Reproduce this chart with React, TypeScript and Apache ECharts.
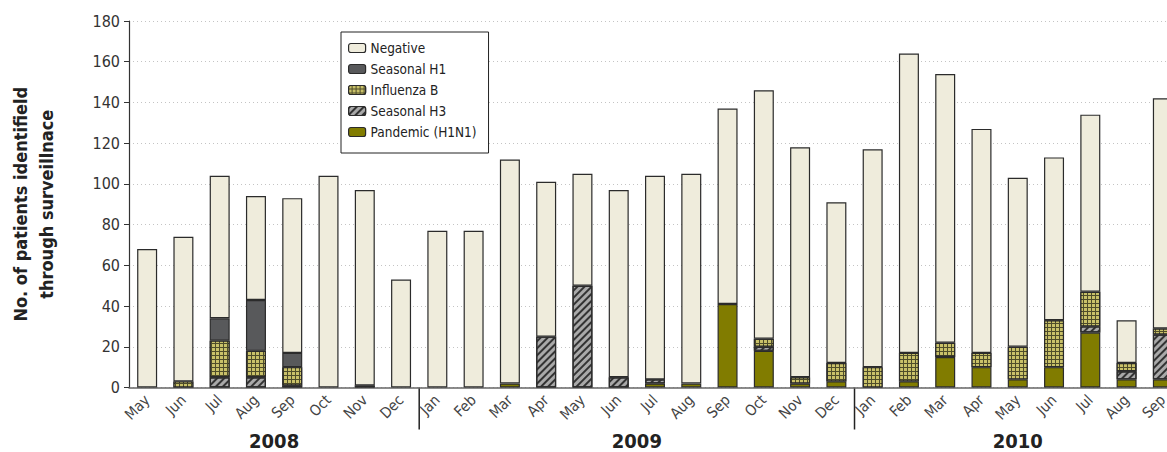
import React, { useEffect, useRef } from "react";
import * as echarts from "echarts";

const months = ["May","Jun","Jul","Aug","Sep","Oct","Nov","Dec","Jan","Feb","Mar","Apr","May","Jun","Jul","Aug","Sep","Oct","Nov","Dec","Jan","Feb","Mar","Apr","May","Jun","Jul","Aug","Sep"];
const yearLabels = ["2008", "2009", "2010"];

const pandemic = [0,0,0,0,0,0,0,0,0,0,2,0,0,0,2,2,41,18,2,3,0,3,15,10,4,10,27,4,4];
const seasonalH3 = [0,0,5,5,1,0,1,0,0,0,0,25,50,5,2,0,0,2,0,0,0,0,0,0,0,0,3,4,22];
const influenzaB = [0,3,18,13,9,0,0,0,0,0,0,0,0,0,0,0,0,4,3,9,10,14,7,7,16,23,17,4,3];
const seasonalH1 = [0,0,11,25,7,0,0,0,0,0,0,0,0,0,0,0,0,0,0,0,0,0,0,0,0,0,0,0,0];
const negative = [68,71,70,51,76,104,96,53,77,77,110,76,55,92,100,103,96,122,113,79,107,147,132,110,83,80,87,21,113];

const yTicks = { min: 0, max: 180, interval: 20 };

const FONT = '"DejaVu Sans Condensed", "Liberation Sans Narrow", "Noto Sans", sans-serif';
const BORDER = "#2b2b2b";

export default function App() {
  const ref = useRef<HTMLDivElement>(null);

  useEffect(() => {
    if (!ref.current) return;
    const chart = echarts.init(ref.current, null, { renderer: "svg" });

    const barBase = (name: string, data: number[], color: string, decal?: any) => ({
      name,
      type: "bar",
      stack: "total",
      data: data.map((v) => (v === 0 ? "-" : v)),
      barWidth: 20,
      itemStyle: {
        color,
        borderColor: BORDER,
        borderWidth: 1.2,
        ...(decal ? { decal } : {}),
      },
      emphasis: { disabled: true },
    });

    const option: any = {
      animation: false,
      backgroundColor: "#ffffff",
      grid: {
        left: 129,
        top: 21,
        width: 1052,
        bottom: 64.5,
        containLabel: false,
        outerBoundsMode: "none",
      },
      legend: {
        orient: "vertical",
        left: 341,
        top: 32,
        padding: [9, 12, 14, 7],
        itemGap: 7,
        itemWidth: 17,
        itemHeight: 9,
        borderColor: "#222",
        borderWidth: 1,
        backgroundColor: "#fff",
        textStyle: { fontFamily: FONT, fontSize: 13.5, color: "#222" },
        data: ["Negative", "Seasonal H1", "Influenza B", "Seasonal H3", "Pandemic (H1N1)"],
        itemStyle: { borderColor: BORDER, borderWidth: 1.2 },
      },
      xAxis: {
        type: "category",
        data: months,
        axisLine: { show: true, lineStyle: { color: "#666", width: 1.5 } },
        axisTick: { show: false },
        axisLabel: {
          interval: 0,
          rotate: 45,
          margin: 10,
          fontFamily: FONT,
          fontSize: 15,
          color: "#444",
        },
        splitLine: { show: false },
      },
      yAxis: {
        type: "value",
        min: yTicks.min,
        max: yTicks.max,
        interval: yTicks.interval,
        name: "No. of patients identifield\nthrough surveillnace",
        nameLocation: "middle",
        nameRotate: 90,
        nameGap: 70,
        nameTextStyle: {
          fontFamily: FONT,
          fontWeight: "bold",
          fontSize: 18,
          lineHeight: 26,
          color: "#222",
        },
        axisLine: { show: true, lineStyle: { color: "#333", width: 1.2 } },
        axisTick: { show: true, length: 5, lineStyle: { color: "#333" } },
        axisLabel: { fontFamily: FONT, fontSize: 16, color: "#333", margin: 9 },
        splitLine: { show: true, lineStyle: { color: "#c4c4c4", type: [1, 3], width: 1 } },
      },
      series: [
        barBase("Pandemic (H1N1)", pandemic, "#817c00"),
        barBase("Seasonal H3", seasonalH3, "#a9a9a9", {
          symbol: "rect",
          symbolSize: 1,
          dashArrayX: [1, 0],
          dashArrayY: [1.1, 3],
          rotation: -Math.PI / 4,
          color: "#333333",
        }),
        barBase("Influenza B", influenzaB, "#4f4d2a", {
          symbol: "rect",
          symbolSize: 1,
          dashArrayX: [2.6, 1],
          dashArrayY: [2.6, 1],
          rotation: 0,
          color: "#c9c169",
        }),
        barBase("Seasonal H1", seasonalH1, "#58595b"),
        barBase("Negative", negative, "#efecdc"),
      ],
    };

    chart.setOption(option);

    // Year separators and year labels, positioned from the library's own scales
    const janIdx: number[] = [];
    months.forEach((m, i) => { if (m === "Jan") janIdx.push(i); });
    const starts = [0, ...janIdx];
    const ends = [...janIdx.map((i) => i - 1), months.length - 1];
    const axisY = chart.convertToPixel({ yAxisIndex: 0 }, 0) as number;
    const px = (i: number) => chart.convertToPixel({ xAxisIndex: 0 }, i) as number;

    const graphics: any[] = [];
    janIdx.forEach((j) => {
      const x = (px(j - 1) + px(j)) / 2;
      graphics.push({
        type: "line",
        shape: { x1: x, y1: axisY, x2: x, y2: axisY + 42 },
        style: { stroke: "#222", lineWidth: 1.5 },
      });
    });
    yearLabels.forEach((yl, k) => {
      const x = (px(starts[k]) + px(ends[k])) / 2;
      graphics.push({
        type: "text",
        x,
        y: axisY + 53,
        style: {
          text: yl,
          fontFamily: FONT,
          fontWeight: "bold",
          fontSize: 20,
          fill: "#222",
          textAlign: "center",
          textVerticalAlign: "middle",
        },
      });
    });
    chart.setOption({ graphic: graphics });

    return () => chart.dispose();
  }, []);

  return (
    <div
      ref={ref}
      style={{ position: "fixed", left: 0, top: 0, width: 1167, height: 452 }}
    />
  );
}
